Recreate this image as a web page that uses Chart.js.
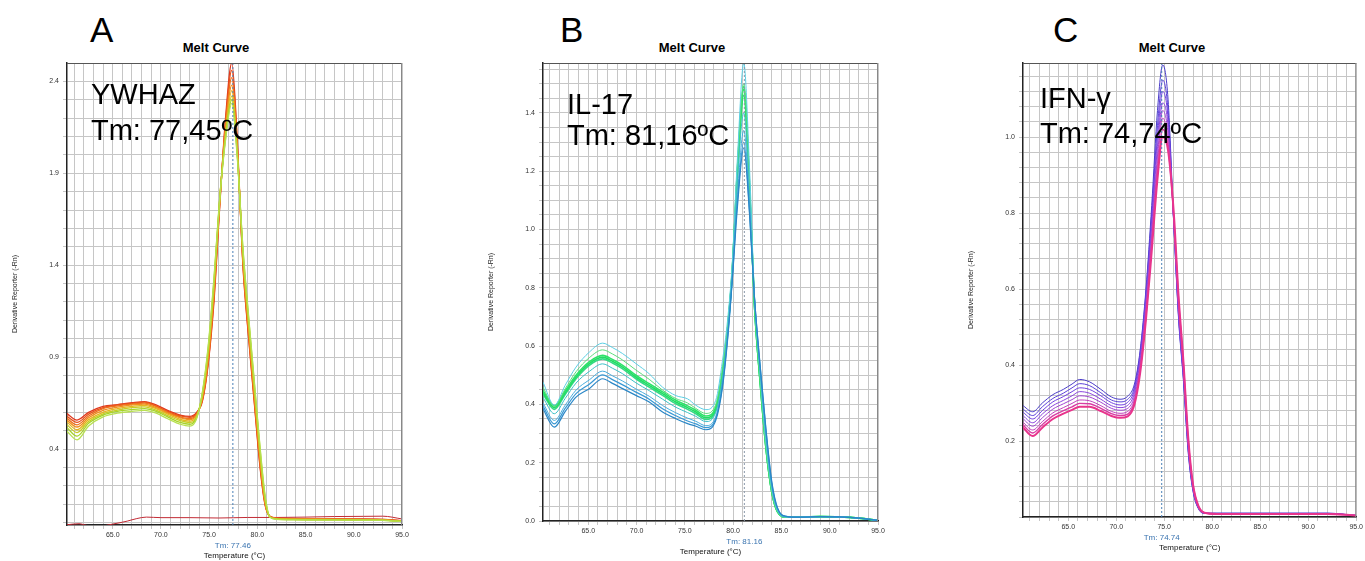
<!DOCTYPE html>
<html><head><meta charset="utf-8">
<script src="https://cdn.jsdelivr.net/npm/chart.js@4/dist/chart.umd.min.js"></script>
<style>
html,body{margin:0;padding:0;background:#fff;width:1365px;height:561px;overflow:hidden;position:relative;font-family:"Liberation Sans",Arial,sans-serif;}
canvas{position:absolute;}
.t{position:absolute;white-space:nowrap;color:#000;line-height:1;}
.letter{font-size:35px;}
.title{font-size:13px;font-weight:bold;transform:translateX(-50%);}
.ann{font-size:29px;}
</style></head><body>
<div class="t letter" style="left:90px;top:12px">A</div>
<div class="t letter" style="left:560px;top:12px">B</div>
<div class="t letter" style="left:1053px;top:12px">C</div>
<div class="t title" style="left:216px;top:41px">Melt Curve</div>
<div class="t title" style="left:692px;top:41px">Melt Curve</div>
<div class="t title" style="left:1172px;top:41px">Melt Curve</div>
<canvas id="cA" width="412" height="512" style="left:0px;top:53px;width:412px;height:512px"></canvas>
<canvas id="cB" width="412" height="508" style="left:476px;top:53px;width:412px;height:508px"></canvas>
<canvas id="cC" width="409" height="504" style="left:956px;top:53px;width:409px;height:504px"></canvas>
<div class="t ann" style="left:91px;top:80px">YWHAZ</div>
<div class="t ann" style="left:91px;top:116px">Tm: 77,45ºC</div>
<div class="t ann" style="left:567px;top:90px">IL-17</div>
<div class="t ann" style="left:567px;top:121px">Tm: 81,16ºC</div>
<div class="t ann" style="left:1040px;top:84px">IFN-γ</div>
<div class="t ann" style="left:1040px;top:119px">Tm: 74,74ºC</div>
<script>
// ---------- Panel A : YWHAZ ----------
const tempA = [60.2, 61.3, 62.5, 64, 65.5, 67, 68.3, 69.5, 70.7, 72, 73, 73.7, 74.3, 74.9, 75.5, 76.1, 76.7, 77.35, 77.9, 78.5, 79.1, 79.7, 80.3, 80.8, 81.3, 82, 84, 87, 90, 93, 95];
const a1 = [0.595,0.558,0.60,0.632,0.642,0.652,0.658,0.64,0.61,0.585,0.578,0.60,0.66,0.86,1.20,1.72,2.20,2.50,2.10,1.40,1.00,0.64,0.29,0.095,0.035,0.025,0.022,0.02,0.02,0.018,0.01];
const a2 = [0.58,0.545,0.59,0.625,0.64,0.648,0.655,0.635,0.605,0.58,0.572,0.595,0.665,0.87,1.22,1.73,2.18,2.46,2.08,1.41,1.01,0.65,0.30,0.10,0.034,0.024,0.021,0.02,0.019,0.017,0.01];
const a3 = [0.57,0.532,0.58,0.62,0.635,0.645,0.65,0.632,0.60,0.575,0.565,0.59,0.67,0.88,1.24,1.74,2.16,2.42,2.06,1.42,1.03,0.67,0.32,0.105,0.033,0.023,0.02,0.019,0.018,0.016,0.009];
const a4 = [0.56,0.52,0.57,0.61,0.628,0.64,0.645,0.625,0.595,0.57,0.56,0.585,0.68,0.90,1.26,1.75,2.14,2.38,2.05,1.44,1.05,0.69,0.34,0.11,0.032,0.022,0.019,0.018,0.017,0.015,0.008];
const a5 = [0.55,0.505,0.56,0.60,0.62,0.632,0.638,0.62,0.59,0.562,0.552,0.58,0.69,0.92,1.28,1.76,2.12,2.35,2.03,1.46,1.07,0.71,0.35,0.12,0.031,0.021,0.018,0.017,0.016,0.014,0.008];
const a6 = [0.535,0.49,0.55,0.592,0.612,0.625,0.63,0.612,0.582,0.555,0.545,0.575,0.70,0.93,1.30,1.76,2.10,2.32,2.02,1.47,1.09,0.73,0.37,0.13,0.03,0.02,0.017,0.016,0.015,0.013,0.007];
const a7 = [0.52,0.47,0.54,0.585,0.605,0.615,0.62,0.605,0.575,0.545,0.535,0.57,0.705,0.95,1.32,1.77,2.09,2.30,2.01,1.49,1.11,0.75,0.39,0.14,0.03,0.019,0.016,0.015,0.014,0.012,0.006];
const a8 = [0.50,0.45,0.525,0.575,0.595,0.605,0.61,0.595,0.565,0.535,0.525,0.565,0.71,0.96,1.33,1.76,2.08,2.28,2.00,1.50,1.12,0.76,0.40,0.15,0.03,0.018,0.015,0.014,0.013,0.012,0.006];
const ntcTempA = [60.2, 61.5, 62.3, 63.5, 65, 66.5, 67.5, 68.5, 70, 73, 76, 79, 82, 85, 88, 91, 93, 95];
const ntcA = [-0.012,-0.006,-0.015,-0.02,-0.008,0.008,0.022,0.03,0.027,0.027,0.025,0.028,0.028,0.03,0.033,0.034,0.035,0.02];
const colorsA = ['#e0381e','#e8521c','#ee6e1c','#f0901e','#e6b420','#c8cc22','#a6d428','#b8e050'];
const yLabelsA = [0.4, 0.9, 1.4, 1.9, 2.4];
const tmA = 77.46;

// ---------- Panel B : IL-17 ----------
const tempB = [60.3, 61.48, 62.6, 63.73, 65.1, 66.49, 67.5, 68.56, 69.93, 71.31, 72.69, 74.07, 75.28, 76.14, 77.17, 78.2, 78.9, 79.42, 79.9, 80.45, 81.1, 81.7, 82.2, 82.8, 83.4, 84.0, 84.6, 85.5, 87, 89, 91, 93, 95];
const b1 = [0.477,0.397,0.465,0.528,0.579,0.61,0.595,0.574,0.54,0.505,0.459,0.43,0.419,0.397,0.382,0.414,0.551,0.688,0.88,1.25,1.57,1.21,0.78,0.50,0.27,0.11,0.035,0.014,0.013,0.015,0.014,0.01,0.002];
const b2 = [0.46,0.393,0.453,0.512,0.56,0.587,0.573,0.552,0.518,0.486,0.449,0.42,0.405,0.386,0.369,0.40,0.529,0.672,0.865,1.23,1.50,1.17,0.755,0.48,0.255,0.10,0.032,0.013,0.013,0.015,0.014,0.01,0.002];
const b3 = [0.448,0.395,0.446,0.50,0.546,0.568,0.554,0.534,0.50,0.471,0.443,0.414,0.395,0.38,0.36,0.391,0.511,0.66,0.855,1.21,1.49,1.15,0.745,0.475,0.25,0.10,0.031,0.013,0.013,0.015,0.014,0.01,0.002];
const b4 = [0.442,0.389,0.44,0.494,0.54,0.562,0.548,0.528,0.494,0.465,0.437,0.408,0.389,0.374,0.354,0.385,0.505,0.654,0.85,1.20,1.48,1.14,0.745,0.475,0.25,0.10,0.031,0.013,0.013,0.015,0.014,0.01,0.002];
const b5 = [0.436,0.383,0.434,0.488,0.534,0.556,0.542,0.522,0.488,0.459,0.431,0.402,0.383,0.368,0.348,0.379,0.499,0.65,0.845,1.19,1.46,1.13,0.745,0.475,0.25,0.10,0.031,0.013,0.013,0.015,0.014,0.01,0.002];
const b6 = [0.424,0.368,0.42,0.473,0.513,0.539,0.524,0.505,0.474,0.447,0.418,0.39,0.372,0.359,0.341,0.373,0.491,0.643,0.84,1.17,1.40,1.11,0.77,0.51,0.285,0.118,0.037,0.014,0.013,0.015,0.014,0.01,0.002];
const b7 = [0.405,0.345,0.397,0.449,0.484,0.514,0.498,0.48,0.453,0.428,0.396,0.371,0.353,0.342,0.327,0.359,0.475,0.632,0.83,1.12,1.34,1.08,0.77,0.52,0.30,0.125,0.04,0.015,0.013,0.015,0.014,0.01,0.002];
const b8 = [0.395,0.333,0.386,0.437,0.469,0.501,0.485,0.467,0.442,0.418,0.385,0.361,0.343,0.333,0.32,0.352,0.467,0.626,0.825,1.10,1.30,1.06,0.77,0.53,0.31,0.13,0.042,0.016,0.013,0.015,0.014,0.01,0.002];
const b9 = [0.385,0.322,0.375,0.425,0.454,0.488,0.472,0.454,0.431,0.408,0.374,0.351,0.334,0.325,0.313,0.345,0.459,0.62,0.82,1.08,1.28,1.05,0.77,0.53,0.315,0.135,0.045,0.016,0.013,0.015,0.014,0.01,0.002];
const colorsB = ['#2a86c6','#3898d4','#48acdc','#3cc0c8','#5ccfe4','#5cdc7c','#2ee26a','#22dc64','#34d884'];
const yLabelsB = [0.0, 0.2, 0.4, 0.6, 0.8, 1.0, 1.2, 1.4];
const tmB = 81.16;

// ---------- Panel C : IFN-γ ----------
const tempC = [60.2, 61.3, 62.3, 63.4, 64.5, 65.4, 66.2, 67.2, 68.4, 69.5, 70.4, 71.2, 71.9, 72.5, 73.1, 73.7, 74.3, 74.85, 75.4, 76.0, 76.5, 77.0, 77.5, 78.0, 78.6, 79.2, 80.5, 84, 88, 92, 95];
const c1 = [0.295,0.277,0.300,0.322,0.336,0.350,0.362,0.356,0.336,0.316,0.31,0.318,0.35,0.44,0.60,0.82,1.07,1.19,1.10,0.77,0.52,0.36,0.17,0.068,0.02,0.01,0.01,0.01,0.01,0.01,0.004];
const c2 = [0.286,0.267,0.290,0.312,0.326,0.340,0.351,0.346,0.327,0.308,0.303,0.310,0.342,0.435,0.59,0.80,1.03,1.15,1.07,0.77,0.525,0.365,0.175,0.07,0.021,0.01,0.01,0.01,0.01,0.01,0.004];
const c3 = [0.278,0.258,0.280,0.303,0.317,0.330,0.340,0.336,0.319,0.301,0.295,0.302,0.335,0.425,0.58,0.785,1.0,1.12,1.05,0.77,0.53,0.37,0.18,0.073,0.022,0.01,0.009,0.009,0.009,0.009,0.004];
const c4 = [0.269,0.248,0.271,0.293,0.307,0.319,0.330,0.326,0.310,0.293,0.288,0.294,0.327,0.415,0.565,0.765,0.975,1.09,1.03,0.775,0.54,0.38,0.187,0.076,0.023,0.011,0.009,0.009,0.009,0.009,0.004];
const c5 = [0.261,0.239,0.261,0.284,0.298,0.309,0.319,0.316,0.302,0.286,0.281,0.286,0.318,0.405,0.55,0.745,0.95,1.07,1.01,0.78,0.55,0.39,0.195,0.079,0.024,0.011,0.009,0.009,0.009,0.009,0.004];
const c6 = [0.252,0.229,0.251,0.274,0.288,0.299,0.308,0.306,0.293,0.278,0.273,0.278,0.310,0.395,0.54,0.73,0.93,1.05,0.99,0.785,0.56,0.40,0.20,0.082,0.025,0.011,0.008,0.008,0.008,0.008,0.004];
const c7 = [0.245,0.221,0.243,0.266,0.280,0.290,0.299,0.298,0.286,0.272,0.267,0.271,0.303,0.388,0.53,0.715,0.905,1.02,0.975,0.79,0.57,0.405,0.205,0.084,0.026,0.011,0.008,0.008,0.008,0.008,0.004];
const c8 = [0.238,0.213,0.235,0.258,0.272,0.282,0.29,0.29,0.279,0.266,0.261,0.265,0.296,0.38,0.52,0.70,0.89,1.00,0.965,0.80,0.58,0.41,0.21,0.086,0.027,0.011,0.008,0.008,0.008,0.008,0.004];
const colorsC = ['#e8348c','#d83ca4','#c040bc','#a044d0','#8a44dc','#7040e0','#5a40d8','#4a3cc8'];
const yLabelsC = [0.2, 0.4, 0.6, 0.8, 1.0];
const tmC = 74.74;

const xLabels = [65, 70, 75, 80, 85, 90, 95];

const FONT = '"Liberation Sans", Arial, sans-serif';

const panelPlugin = {
  id: 'panelDeco',
  afterDraw(chart, args, o) {
    const {ctx, chartArea: a, scales} = chart;
    ctx.save();
    ctx.strokeStyle = '#555';
    ctx.lineWidth = 1;
    ctx.beginPath();
    ctx.moveTo(a.left, a.top + 0.5); ctx.lineTo(a.right, a.top + 0.5);
    ctx.stroke();
    ctx.strokeStyle = '#888';
    ctx.beginPath();
    ctx.moveTo(a.right - 0.5, a.top); ctx.lineTo(a.right - 0.5, a.bottom);
    ctx.stroke();
    ctx.fillStyle = '#3a74b0';
    ctx.font = '8px ' + FONT;
    ctx.textAlign = 'center';
    ctx.textBaseline = 'middle';
    ctx.fillText('Tm: ' + o.tm.toFixed(2), scales.x.getPixelForValue(o.tm), a.bottom + 21);
    ctx.restore();
  }
};

function near(list, v) { return list.some(l => Math.abs(l - v) < 1e-6); }

function makePanel(id, temps, series, colors, widths, extra, xmin, ymin, ymax, ystep, ylabels, tm, tmColor) {
  const datasets = [];
  datasets.push({
    data: [{x: tm, y: ymin}, {x: tm, y: ymax}],
    borderColor: tmColor, borderWidth: 1, borderDash: [2, 2], pointRadius: 0, tension: 0
  });
  series.forEach((s, i) => {
    datasets.push({
      data: temps.map((t, j) => ({x: t, y: s[j]})),
      borderColor: colors[i], borderWidth: widths[i], pointRadius: 0,
      cubicInterpolationMode: 'monotone', fill: false
    });
  });
  extra.forEach(e => datasets.push(e));
  const yGrid = [];
  const first = Math.ceil((ymin - 1e-9) / ystep);
  for (let k = Math.max(first, 0); k * ystep <= ymax - ystep * 0.3; k++) yGrid.push(Math.round(k * ystep * 1000) / 1000);
  const xGrid = [];
  for (let v = Math.ceil(xmin); v <= 95; v++) xGrid.push(v);
  const tickFont = {size: 7, family: FONT};
  return new Chart(document.getElementById(id), {
    type: 'line',
    data: {datasets},
    options: {
      responsive: false, animation: false, devicePixelRatio: 1,
      layout: {padding: {top: 10, right: (id === 'cC' ? 8 : 10), left: 0, bottom: 0}},
      plugins: {legend: {display: false}, tooltip: {enabled: false}, panelDeco: {tm: tm}},
      scales: {
        x: {
          type: 'linear', min: xmin, max: 95,
          afterFit: s => { s.height = 40; },
          afterBuildTicks: s => { s.ticks = xGrid.map(v => ({value: v})); },
          ticks: {autoSkip: false, maxRotation: 0, minRotation: 0, padding: 2, color: '#333', font: tickFont,
                  callback: v => near(xLabels, v) ? Number(v).toFixed(1) : ''},
          grid: {color: '#c6c6c6', lineWidth: 1, tickLength: 4, drawTicks: true},
          border: {color: '#222', width: 1.5},
          title: {display: true, text: 'Temperature (°C)', color: '#111', font: {size: 8, family: FONT}, padding: {top: 0, bottom: 4}}
        },
        y: {
          type: 'linear', min: ymin, max: ymax,
          afterFit: s => { s.width = 67; },
          afterBuildTicks: s => { s.ticks = yGrid.map(v => ({value: v})); },
          ticks: {autoSkip: false, padding: 4, color: '#333', font: tickFont,
                  callback: v => near(ylabels, v) ? Number(v).toFixed(1) : ''},
          grid: {color: '#c6c6c6', lineWidth: 1, tickLength: 4, drawTicks: true},
          border: {color: '#222', width: 1.5},
          title: {display: true, text: 'Derivative Reporter (-Rn)', color: '#222', font: {size: 7, family: FONT}, padding: {top: 11, bottom: 0}}
        }
      }
    },
    plugins: [panelPlugin]
  });
}

// series listed so that the first one is drawn on top
makePanel('cA', tempA, [a8, a7, a6, a5, a4, a3, a2, a1], colorsA.slice().reverse(), [1.3,1.3,1.3,1.3,1.3,1.3,1.3,1.3],
  [{data: ntcTempA.map((t, j) => ({x: t, y: ntcA[j]})), borderColor: '#c22a34', borderWidth: 1, pointRadius: 0, cubicInterpolationMode: 'monotone'}],
  60.26, -0.013, 2.5, 0.1, yLabelsA, tmA, '#4a80b8');
makePanel('cB', tempB, [b9, b8, b7, b6, b1, b2, b3, b4, b5], colorsB, [1.2,1.2,1,1,1,1,1.6,1.6,1.6], [],
  60.31, 0, 1.571, 0.05, yLabelsB, tmB, '#8a98a8');
makePanel('cC', tempC, [c8, c7, c6, c5, c4, c3, c2, c1], colorsC, [2,1.4,1,1,1,1,1,1], [],
  60.29, 0, 1.195, 0.04, yLabelsC, tmC, '#4a80b8');
</script>
</body></html>
